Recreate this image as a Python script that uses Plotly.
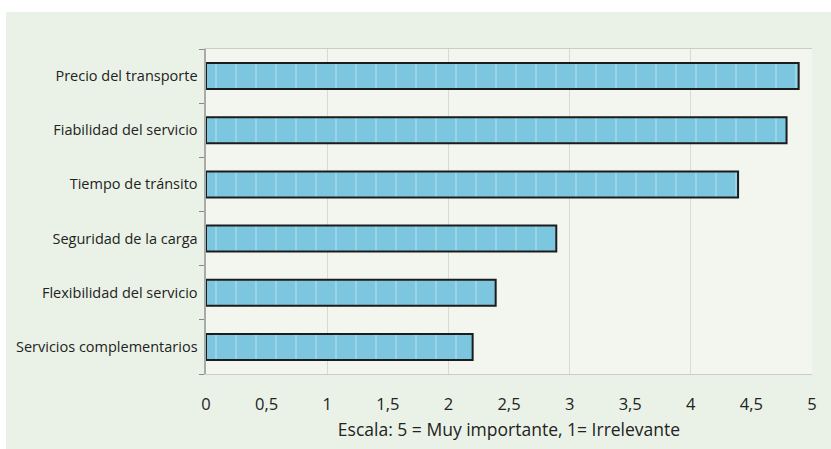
import plotly.graph_objects as go

# Factores valorados y su puntuación media (escala 1-5)
factores = [
    "Servicios complementarios",
    "Flexibilidad del servicio",
    "Seguridad de la carga",
    "Tiempo de tránsito",
    "Fiabilidad del servicio",
    "Precio del transporte",
]
puntuacion = [2.2, 2.39, 2.89, 4.39, 4.79, 4.89]

ticks_x = [0, 0.5, 1, 1.5, 2, 2.5, 3, 3.5, 4, 4.5, 5]

fondo = "#eaf2e7"
fondo_grafico = "#f2f6ef"
azul = "#7cc6df"

ANCHO, ALTO = 831, 449
M_IZQ, M_DER, M_SUP, M_INF = 206, 19, 49, 75
ancho_area = ANCHO - M_IZQ - M_DER
alto_area = ALTO - M_SUP - M_INF

fig = go.Figure()

fig.add_trace(go.Bar(
    x=puntuacion,
    y=factores,
    orientation="h",
    width=0.48,
    marker=dict(
        color=azul,
        line=dict(color="#1c1c1c", width=2),
        pattern=dict(shape="|", fgcolor="#c4e6f1", bgcolor=azul,
                     size=20, solidity=0.06, fgopacity=0.7),
    ),
    hoverinfo="x+y",
    showlegend=False,
))

# eje auxiliar solo para las líneas de división en los enteros
fig.add_trace(go.Scatter(
    x=[0, 5], y=[factores[0], factores[0]], xaxis="x2",
    mode="markers", marker=dict(opacity=0), hoverinfo="skip", showlegend=False,
))

fig.update_layout(
    width=ANCHO,
    height=ALTO,
    margin=dict(l=M_IZQ, r=M_DER, t=M_SUP, b=M_INF),
    paper_bgcolor=fondo,
    plot_bgcolor=fondo_grafico,
    separators=", ",
    font=dict(family="'Open Sans', sans-serif", color="#222222"),
    xaxis=dict(
        range=[0, 5],
        tickvals=ticks_x,
        tickformat="~g",
        showgrid=False,
        zeroline=False,
        showline=True,
        linecolor="#c9cdc6",
        mirror=True,
        ticks="outside",
        ticklen=15,
        tickcolor="rgba(0,0,0,0)",
        tickfont=dict(size=16.5, color="#222222"),
        title=dict(text="Escala: 5 = Muy importante, 1= Irrelevante",
                   font=dict(size=17.5, color="#222222"), standoff=9),
    ),
    xaxis2=dict(
        overlaying="x",
        range=[0, 5],
        dtick=1,
        showgrid=True,
        gridcolor="#dad9d2",
        gridwidth=1,
        showticklabels=False,
        zeroline=False,
        ticks="",
    ),
    yaxis=dict(
        categoryorder="array",
        categoryarray=factores,
        showgrid=False,
        showline=True,
        linecolor="#a9aca6",
        linewidth=1.5,
        ticks="outside",
        tickson="boundaries",
        ticklen=5,
        tickcolor="#8a8a8a",
        tickfont=dict(size=14.5, color="#222222"),
        ticksuffix=" ",
    ),
    bargap=0.52,
    shapes=[
        # margen derecho e inferior rellenos con el verde del fondo
        dict(type="rect", xref="paper", yref="paper",
             x0=1, x1=1 + M_DER / ancho_area,
             y0=-M_INF / alto_area, y1=1 + (M_SUP - 12) / alto_area,
             fillcolor=fondo, line=dict(width=0), layer="below"),
        dict(type="rect", xref="paper", yref="paper",
             x0=-(M_IZQ - 6) / ancho_area, x1=1 + M_DER / ancho_area,
             y0=-M_INF / alto_area, y1=0,
             fillcolor=fondo, line=dict(width=0), layer="below"),
        # franja blanca superior e izquierda
        dict(type="rect", xref="paper", yref="paper",
             x0=-M_IZQ / ancho_area, x1=1 + M_DER / ancho_area,
             y0=1 + (M_SUP - 12) / alto_area, y1=1 + M_SUP / alto_area,
             fillcolor="white", line=dict(width=0), layer="below"),
        dict(type="rect", xref="paper", yref="paper",
             x0=-M_IZQ / ancho_area, x1=-(M_IZQ - 6) / ancho_area,
             y0=-M_INF / alto_area, y1=1 + M_SUP / alto_area,
             fillcolor="white", line=dict(width=0), layer="below"),
    ],
)

fig.write_html("out.html")
